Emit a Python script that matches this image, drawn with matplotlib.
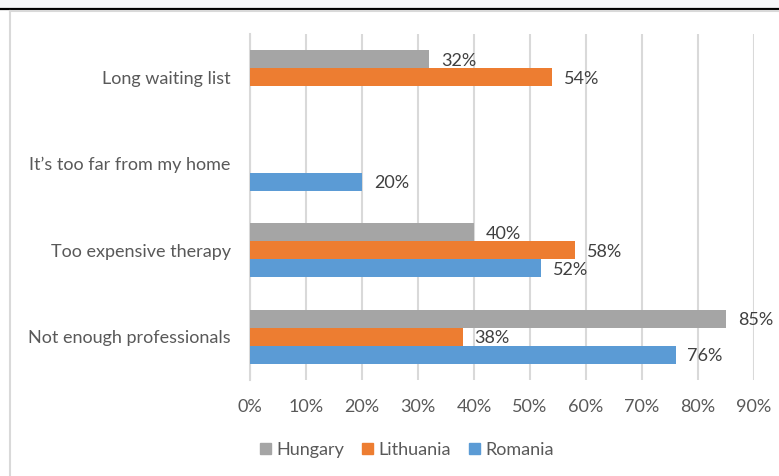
import matplotlib
matplotlib.use("Agg")
import matplotlib.pyplot as plt
import numpy as np
from matplotlib.lines import Line2D
from matplotlib.patches import Rectangle

plt.rcParams['font.family'] = ['Lato', 'DejaVu Sans']

categories = ["Not enough professionals", "Too expensive therapy",
              "It\u2019s too far from my home", "Long waiting list"]
series_names = ["Hungary", "Lithuania", "Romania"]
hungary = [85, 40, np.nan, 32]
lithuania = [38, 58, np.nan, 54]
romania = [76, 52, 20, np.nan]
tick_values = [0, 10, 20, 30, 40, 50, 60, 70, 80, 90]

colors = {"Hungary": "#a5a5a5", "Lithuania": "#ed7d31", "Romania": "#5b9bd5"}
text_color = "#595959"
grid_color = "#d9d9d9"
FS = 13

W, H = 779, 476
fig = plt.figure(figsize=(W / 100, H / 100), dpi=100)
fig.patch.set_facecolor("white")

# screenshot frame decorations
fig.add_artist(Rectangle((0, 1 - 8 / H), 1, 8 / H, transform=fig.transFigure,
                         facecolor="#f6f7f9", edgecolor="none"))
fig.add_artist(Line2D([0, 1], [1 - 8.5 / H] * 2, transform=fig.transFigure,
                      color="black", lw=1.6))
fig.add_artist(Line2D([9.5 / W, 1], [1 - 11 / H] * 2, transform=fig.transFigure,
                      color=grid_color, lw=1.5))
fig.add_artist(Line2D([9.5 / W] * 2, [0, 1 - 11 / H], transform=fig.transFigure,
                      color=grid_color, lw=1.5))

left, right = 250, 754
top, bottom = 34, 380
ax = fig.add_axes([left / W, (H - bottom) / H, (right - left) / W, (bottom - top) / H])

y = np.arange(len(categories))
h = 0.207
series = [("Hungary", hungary, h), ("Lithuania", lithuania, 0.0), ("Romania", romania, -h)]
for name, vals, off in series:
    vals = np.array(vals, dtype=float)
    ax.barh(y + off, np.nan_to_num(vals), height=h, color=colors[name], label=name,
            zorder=3)
    for yi, v in zip(y, vals):
        if not np.isnan(v):
            ax.annotate(f"{int(v)}%", xy=(v, yi + off), xytext=(8.5, -1),
                        textcoords="offset points", va="center", ha="left",
                        fontsize=FS, color="#404040", annotation_clip=False)

ax.set_xlim(0, 90)
ax.set_ylim(-0.5, 3.5)
ax.set_xticks(tick_values)
ax.set_xticklabels([f"{t}%" for t in tick_values], fontsize=FS, color=text_color)
ax.set_yticks(y)
ax.set_yticklabels(categories, fontsize=FS, color=text_color)
ax.tick_params(axis="both", length=0)
ax.tick_params(axis="x", pad=14)
ax.tick_params(axis="y", pad=14)
ax.xaxis.grid(True, color=grid_color, lw=1.5, zorder=0)
ax.set_axisbelow(True)
for s in ["top", "right", "bottom"]:
    ax.spines[s].set_visible(False)
ax.spines["left"].set_color(grid_color)
ax.spines["left"].set_linewidth(1.5)

handles = [Rectangle((0, 0), 1, 1, color=colors[n]) for n in series_names]
fig.legend(handles, series_names, loc="center", bbox_to_anchor=(407 / W, 1 - 450 / H),
           ncol=3, frameon=False, fontsize=FS, labelcolor=text_color,
           handlelength=0.6, handleheight=0.6, handletextpad=0.3, columnspacing=1.0)

fig.savefig("out.png", dpi=100)
